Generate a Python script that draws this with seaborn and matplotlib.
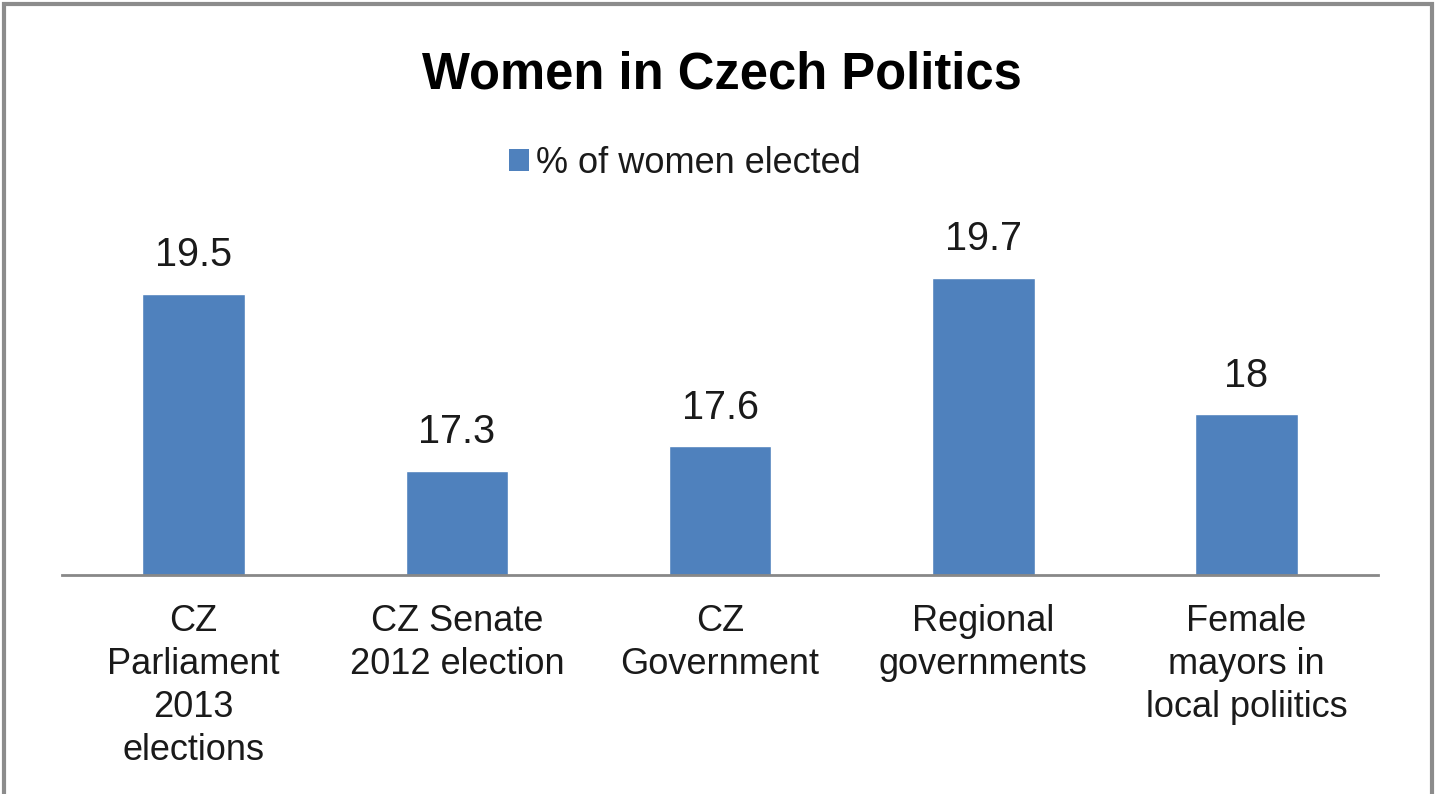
import matplotlib
matplotlib.use('Agg')
import matplotlib.pyplot as plt
import seaborn as sns
from matplotlib.patches import Rectangle, Patch

categories = ['CZ\nParliament\n2013\nelections', 'CZ Senate\n2012 election', 'CZ\nGovernment',
              'Regional\ngovernments', 'Female\nmayors in\nlocal poliitics']
values = [19.5, 17.3, 17.6, 19.7, 18]
labels = ['19.5', '17.3', '17.6', '19.7', '18']
series_name = '% of women elected'

sns.set_style('white')
plt.rcParams['font.family'] = ['Liberation Sans', 'DejaVu Sans']

bar_color = '#4F81BD'
text_color = '#1a1a1a'

fig = plt.figure(figsize=(14.42, 7.94), dpi=100)
ax = fig.add_axes([0.043, 0.2758, 0.9127, 0.405])

sns.barplot(x=categories, y=values, color=bar_color, width=0.39, saturation=1, ax=ax)
ax.set_ylim(16, 20)
ax.set_xlim(-0.5, 4.5)

ax.bar_label(ax.containers[0], labels=labels, padding=14, fontsize=28.5,
             color=text_color, clip_on=False)

ax.set_yticks([])
ax.tick_params(axis='x', length=0, pad=21, labelsize=26, labelcolor=text_color)
for t in ax.get_xticklabels():
    t.set_linespacing(1.29)
for sp in ['top', 'right', 'left']:
    ax.spines[sp].set_visible(False)
ax.spines['bottom'].set_color('#888888')
ax.spines['bottom'].set_linewidth(2)
ax.set_xlabel('')
ax.set_ylabel('')

fig.text(0.5007, 0.905, 'Women in Czech Politics', ha='center', va='center',
         fontsize=36.5, fontweight='bold', color='black')

handle = Patch(facecolor=bar_color, edgecolor='none')
fig.legend([handle], [series_name], loc='center', bbox_to_anchor=(0.475, 0.7947),
           frameon=False, fontsize=26, handlelength=0.55, handleheight=0.55,
           handletextpad=0.2, labelcolor=text_color)

# outer chart frame
fig.patches.append(Rectangle((4 / 1442, -0.01), 1428 / 1442, 1 - 4 / 794 + 0.01,
                             transform=fig.transFigure, fill=False,
                             edgecolor='#8c8c8c', linewidth=3))

fig.savefig('out.png', dpi=100)
